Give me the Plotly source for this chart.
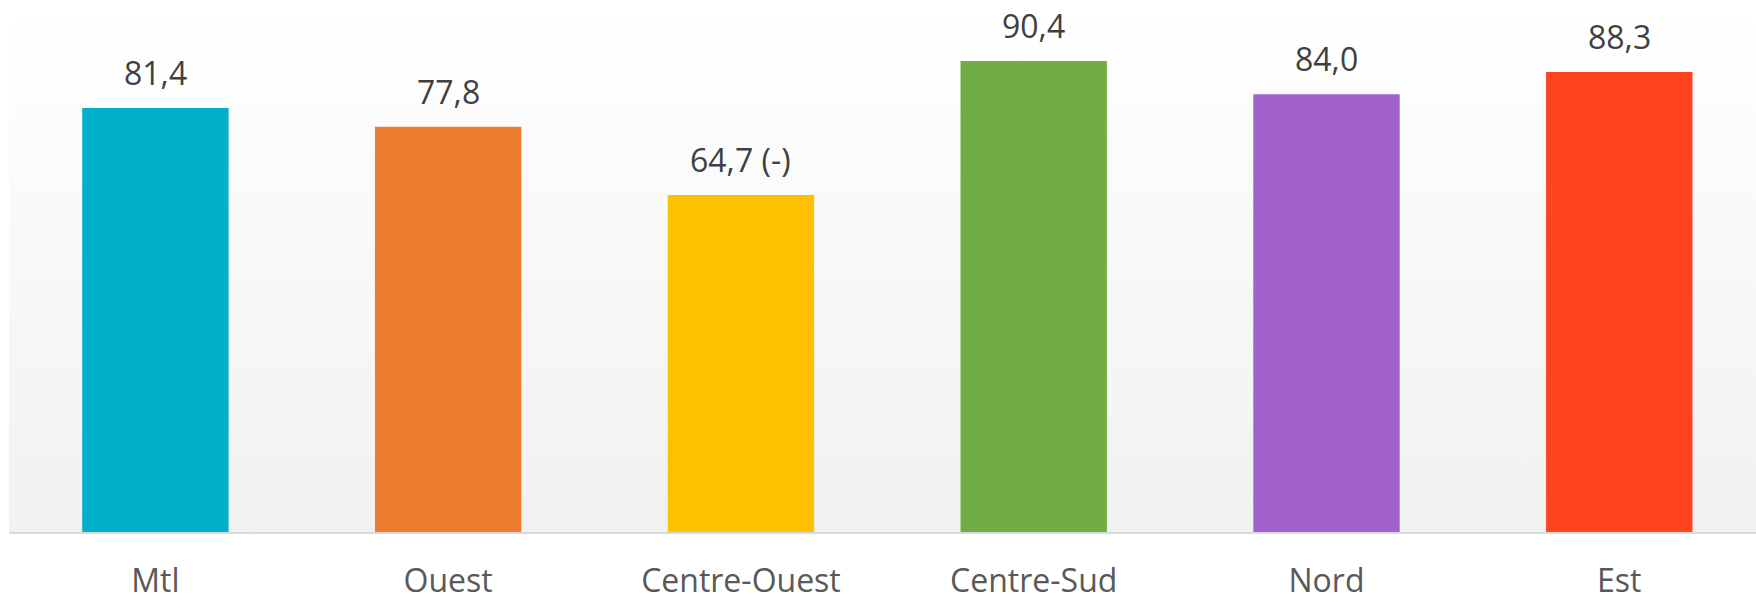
import plotly.graph_objects as go

regions = ["Mtl", "Ouest", "Centre-Ouest", "Centre-Sud", "Nord", "Est"]
values = [81.4, 77.8, 64.7, 90.4, 84.0, 88.3]
labels = ["81,4", "77,8", "64,7 (-)", "90,4", "84,0", "88,3"]
colors = ["#00AFC8", "#ED7D31", "#FFC000", "#70AD47", "#A162CD", "#FD441E"]

# soft vertical gradient behind the bars
grad = ("data:image/svg+xml;utf8,<svg xmlns='http://www.w3.org/2000/svg' width='10' height='100' "
        "preserveAspectRatio='none'><defs><linearGradient id='g' x1='0' y1='0' x2='0' y2='1'>"
        "<stop offset='0' stop-color='%23ffffff'/><stop offset='1' stop-color='%23f1f1f1'/>"
        "</linearGradient></defs><rect width='10' height='100' fill='url(%23g)'/></svg>")

fig = go.Figure(go.Bar(
    x=regions, y=values, marker_color=colors, marker_line_width=0,
    hoverinfo="x+y",
))

for r, v, t in zip(regions, values, labels):
    fig.add_annotation(x=r, y=v, text=t, showarrow=False, yanchor="bottom", yshift=12,
                       font=dict(family="Open Sans", size=32, color="#404040"))

fig.update_layout(
    width=1756, height=594,
    margin=dict(l=9, r=0, t=11, b=62, autoexpand=False),
    paper_bgcolor="white", plot_bgcolor="rgba(0,0,0,0)",
    bargap=0.5, showlegend=False,
    images=[dict(source=grad, xref="paper", yref="paper", x=0, y=1,
                 sizex=1, sizey=1, sizing="stretch", layer="below")],
)
fig.update_xaxes(range=[-0.5, 5.467], showline=True, linecolor="#d9d9d9", linewidth=2,
                 ticks="", ticklabelstandoff=20, automargin=False,
                 tickfont=dict(family="Open Sans", size=32, color="#595959"))
fig.update_yaxes(range=[0, 100], visible=False, showgrid=False, automargin=False)

# drop the default page margin so the figure sits flush in the window
fig.write_html("out.html", config={"displayModeBar": False},
               post_script="document.body.style.margin='0';document.body.style.overflow='hidden';")
